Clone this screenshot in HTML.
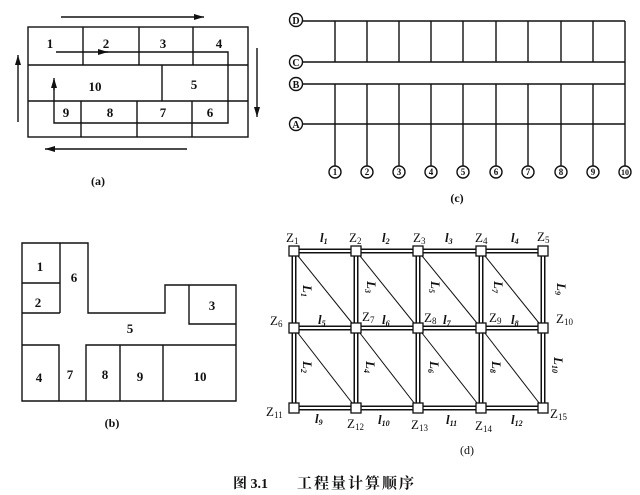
<!DOCTYPE html>
<html><head><meta charset="utf-8"><style>
html,body{margin:0;padding:0;background:#fff;}
svg{display:block;}
text{font-family:"Liberation Serif","Noto Serif CJK SC",serif;fill:#111;}
</style></head><body>
<svg width="640" height="495" viewBox="0 0 640 495" xmlns="http://www.w3.org/2000/svg">
<defs>
<marker id="ah" viewBox="0 0 10 6" refX="10" refY="3" markerWidth="10" markerHeight="6" orient="auto" markerUnits="userSpaceOnUse"><path d="M0,0 L10,3 L0,6 z" fill="#111"/></marker>
</defs>
<g stroke="#111" stroke-width="1.4" fill="none">
<rect x="28" y="27" width="220" height="110"/>
<line x1="28" y1="65" x2="248" y2="65"/><line x1="28" y1="101" x2="248" y2="101"/>
<line x1="83" y1="27" x2="83" y2="65"/><line x1="139" y1="27" x2="139" y2="65"/><line x1="193" y1="27" x2="193" y2="65"/>
<line x1="162" y1="65" x2="162" y2="101"/>
<line x1="81" y1="101" x2="81" y2="137"/><line x1="137" y1="101" x2="137" y2="137"/><line x1="192" y1="101" x2="192" y2="137"/>
<line x1="56" y1="52" x2="108" y2="52" marker-end="url(#ah)"/>
<polyline points="100,52 228,52 228,123 54,123 54,80"/>
<line x1="54" y1="90" x2="54" y2="78" marker-end="url(#ah)"/>
<line x1="61" y1="17" x2="204" y2="17" marker-end="url(#ah)"/>
<line x1="18" y1="122" x2="18" y2="55" marker-end="url(#ah)"/>
<line x1="257" y1="48" x2="257" y2="117" marker-end="url(#ah)"/>
<line x1="187" y1="149" x2="45" y2="149" marker-end="url(#ah)"/>
<line x1="303" y1="21" x2="625" y2="21"/>
<line x1="303" y1="62" x2="625" y2="62"/>
<line x1="303" y1="84" x2="625" y2="84"/>
<line x1="303" y1="124" x2="625" y2="124"/>
<line x1="625" y1="21" x2="625" y2="166"/>
<g>
<line x1="335" y1="21" x2="335" y2="62"/><line x1="367" y1="21" x2="367" y2="62"/><line x1="399" y1="21" x2="399" y2="62"/><line x1="431" y1="21" x2="431" y2="62"/><line x1="463" y1="21" x2="463" y2="62"/><line x1="496" y1="21" x2="496" y2="62"/><line x1="528" y1="21" x2="528" y2="62"/><line x1="561" y1="21" x2="561" y2="62"/><line x1="593" y1="21" x2="593" y2="62"/>
<line x1="335" y1="84" x2="335" y2="166"/><line x1="367" y1="84" x2="367" y2="166"/><line x1="399" y1="84" x2="399" y2="166"/><line x1="431" y1="84" x2="431" y2="166"/><line x1="463" y1="84" x2="463" y2="166"/><line x1="496" y1="84" x2="496" y2="166"/><line x1="528" y1="84" x2="528" y2="166"/><line x1="561" y1="84" x2="561" y2="166"/><line x1="593" y1="84" x2="593" y2="166"/>
</g>
<circle cx="296" cy="20" r="6.5"/><circle cx="296" cy="62" r="6.5"/><circle cx="296" cy="84" r="6.5"/><circle cx="296" cy="124" r="6.5"/>
<circle cx="335" cy="172" r="6"/><circle cx="367" cy="172" r="6"/><circle cx="399" cy="172" r="6"/><circle cx="431" cy="172" r="6"/><circle cx="463" cy="172" r="6"/><circle cx="496" cy="172" r="6"/><circle cx="528" cy="172" r="6"/><circle cx="561" cy="172" r="6"/><circle cx="593" cy="172" r="6"/><circle cx="625" cy="172" r="6"/>
<polygon points="22,243 88,243 88,313 165,313 165,285 236,285 236,401 22,401"/>
<line x1="60" y1="243" x2="60" y2="313"/><line x1="22" y1="283" x2="60" y2="283"/><line x1="22" y1="313" x2="60" y2="313"/>
<polyline points="189,285 189,324 236,324"/>
<polyline points="22,345 59,345 59,401"/>
<polyline points="86,401 86,345 236,345"/>
<line x1="120" y1="345" x2="120" y2="401"/><line x1="163" y1="345" x2="163" y2="401"/>
</g>
<g stroke-linecap="butt">
<g stroke="#111" stroke-width="5">
<line x1="294" y1="251" x2="543" y2="251"/><line x1="294" y1="328" x2="543" y2="328"/><line x1="294" y1="408" x2="543" y2="408"/>
<line x1="294" y1="251" x2="294" y2="408"/><line x1="356" y1="251" x2="356" y2="408"/><line x1="418" y1="251" x2="418" y2="408"/><line x1="481" y1="251" x2="481" y2="408"/><line x1="543" y1="251" x2="543" y2="408"/>
</g>
<g stroke="#fff" stroke-width="2">
<line x1="294" y1="251" x2="543" y2="251"/><line x1="294" y1="328" x2="543" y2="328"/><line x1="294" y1="408" x2="543" y2="408"/>
<line x1="294" y1="251" x2="294" y2="408"/><line x1="356" y1="251" x2="356" y2="408"/><line x1="418" y1="251" x2="418" y2="408"/><line x1="481" y1="251" x2="481" y2="408"/><line x1="543" y1="251" x2="543" y2="408"/>
</g>
<g stroke="#111" stroke-width="1">
<line x1="294" y1="251" x2="356" y2="328"/><line x1="356" y1="251" x2="418" y2="328"/><line x1="418" y1="251" x2="481" y2="328"/><line x1="481" y1="251" x2="543" y2="328"/>
<line x1="294" y1="328" x2="356" y2="408"/><line x1="356" y1="328" x2="418" y2="408"/><line x1="418" y1="328" x2="481" y2="408"/><line x1="481" y1="328" x2="543" y2="408"/>
</g>
<g fill="#fff" stroke="#111" stroke-width="1.3">
<rect x="289" y="246" width="10" height="10"/><rect x="351" y="246" width="10" height="10"/><rect x="413" y="246" width="10" height="10"/><rect x="476" y="246" width="10" height="10"/><rect x="538" y="246" width="10" height="10"/>
<rect x="289" y="323" width="10" height="10"/><rect x="351" y="323" width="10" height="10"/><rect x="413" y="323" width="10" height="10"/><rect x="476" y="323" width="10" height="10"/><rect x="538" y="323" width="10" height="10"/>
<rect x="289" y="403" width="10" height="10"/><rect x="351" y="403" width="10" height="10"/><rect x="413" y="403" width="10" height="10"/><rect x="476" y="403" width="10" height="10"/><rect x="538" y="403" width="10" height="10"/>
</g>
</g>
<g font-size="13" font-weight="bold" text-anchor="middle">
<text x="50" y="48">1</text><text x="106" y="48">2</text><text x="163" y="48">3</text><text x="219" y="48">4</text>
<text x="95" y="91">10</text><text x="194" y="89">5</text>
<text x="66" y="117">9</text><text x="110" y="117">8</text><text x="163" y="117">7</text><text x="210" y="117">6</text>
<text x="98" y="185" font-size="12">(a)</text>
<text x="40" y="271">1</text><text x="38" y="307">2</text><text x="74" y="282">6</text><text x="212" y="310">3</text><text x="130" y="333">5</text>
<text x="39" y="382">4</text><text x="70" y="379">7</text><text x="105" y="379">8</text><text x="140" y="381">9</text><text x="200" y="381">10</text>
<text x="112" y="427" font-size="12">(b)</text>
<text x="457" y="202" font-size="12">(c)</text>
<text x="467" y="454" font-size="12" font-weight="normal">(d)</text>
</g>
<g font-size="10" font-weight="bold" text-anchor="middle">
<text x="296" y="24">D</text><text x="296" y="66">C</text><text x="296" y="88">B</text><text x="296" y="128">A</text>
</g>
<g font-size="9" font-weight="bold" text-anchor="middle">
<text x="335" y="175">1</text><text x="367" y="175">2</text><text x="399" y="175">3</text><text x="431" y="175">4</text><text x="463" y="175">5</text><text x="496" y="175">6</text><text x="528" y="175">7</text><text x="561" y="175">8</text><text x="593" y="175">9</text><text x="625" y="175" font-size="8">10</text>
</g>
<g font-size="13">
<text x="286" y="242">Z<tspan font-size="9" dy="2">1</tspan></text>
<text x="349" y="242">Z<tspan font-size="9" dy="2">2</tspan></text>
<text x="413" y="242">Z<tspan font-size="9" dy="2">3</tspan></text>
<text x="475" y="242">Z<tspan font-size="9" dy="2">4</tspan></text>
<text x="537" y="241">Z<tspan font-size="9" dy="2">5</tspan></text>
<text x="270" y="325">Z<tspan font-size="9" dy="2">6</tspan></text>
<text x="362" y="321">Z<tspan font-size="9" dy="2">7</tspan></text>
<text x="424" y="322">Z<tspan font-size="9" dy="2">8</tspan></text>
<text x="489" y="322">Z<tspan font-size="9" dy="2">9</tspan></text>
<text x="556" y="323">Z<tspan font-size="9" dy="2">10</tspan></text>
<text x="266" y="416">Z<tspan font-size="9" dy="2">11</tspan></text>
<text x="347" y="428">Z<tspan font-size="9" dy="2">12</tspan></text>
<text x="411" y="429">Z<tspan font-size="9" dy="2">13</tspan></text>
<text x="475" y="430">Z<tspan font-size="9" dy="2">14</tspan></text>
<text x="550" y="418">Z<tspan font-size="9" dy="2">15</tspan></text>
</g>
<g font-size="13" font-style="italic" font-weight="bold">
<text x="320" y="242">l<tspan font-size="8" dy="2">1</tspan></text>
<text x="382" y="242">l<tspan font-size="8" dy="2">2</tspan></text>
<text x="445" y="242">l<tspan font-size="8" dy="2">3</tspan></text>
<text x="511" y="242">l<tspan font-size="8" dy="2">4</tspan></text>
<text x="318" y="324">l<tspan font-size="8" dy="2">5</tspan></text>
<text x="382" y="324">l<tspan font-size="8" dy="2">6</tspan></text>
<text x="443" y="324">l<tspan font-size="8" dy="2">7</tspan></text>
<text x="511" y="324">l<tspan font-size="8" dy="2">8</tspan></text>
<text x="315" y="423">l<tspan font-size="8" dy="2">9</tspan></text>
<text x="378" y="424">l<tspan font-size="8" dy="2">10</tspan></text>
<text x="446" y="424">l<tspan font-size="8" dy="2">11</tspan></text>
<text x="511" y="424">l<tspan font-size="8" dy="2">12</tspan></text>
<text transform="translate(303,285) rotate(90)">L<tspan font-size="8" dy="2">1</tspan></text>
<text transform="translate(367,281) rotate(90)">L<tspan font-size="8" dy="2">3</tspan></text>
<text transform="translate(431,281) rotate(90)">L<tspan font-size="8" dy="2">5</tspan></text>
<text transform="translate(494,281) rotate(90)">L<tspan font-size="8" dy="2">7</tspan></text>
<text transform="translate(557,283) rotate(90)">L<tspan font-size="8" dy="2">9</tspan></text>
<text transform="translate(303,361) rotate(90)">L<tspan font-size="8" dy="2">2</tspan></text>
<text transform="translate(366,361) rotate(90)">L<tspan font-size="8" dy="2">4</tspan></text>
<text transform="translate(430,361) rotate(90)">L<tspan font-size="8" dy="2">6</tspan></text>
<text transform="translate(492,361) rotate(90)">L<tspan font-size="8" dy="2">8</tspan></text>
<text transform="translate(554,357) rotate(90)">L<tspan font-size="8" dy="2">10</tspan></text>
</g>
<text x="233" y="488" font-size="14" font-weight="bold" font-family="'Liberation Mono','Noto Serif CJK SC',serif">图 3.1</text>
<text x="297" y="488" font-size="15" font-weight="bold" font-family="'Noto Serif CJK SC',serif" letter-spacing="2">工程量计算顺序</text>
</svg>
</body></html>
